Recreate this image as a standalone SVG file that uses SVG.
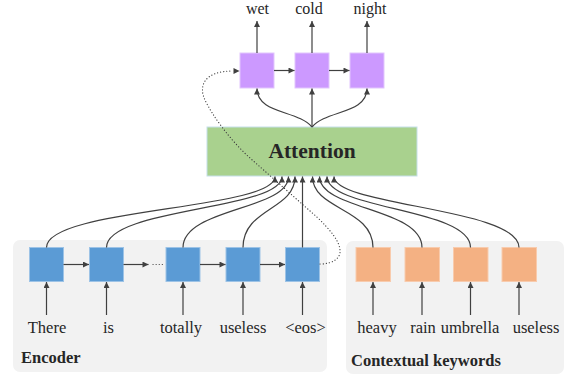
<svg xmlns="http://www.w3.org/2000/svg" width="573" height="377" viewBox="0 0 573 377">
<defs>
<marker id="ah" viewBox="0 0 10 10" refX="10" refY="5" markerWidth="7" markerHeight="6" markerUnits="userSpaceOnUse" orient="auto">
<path d="M0,0 L10,5 L0,10 z" fill="#404040"/>
</marker>
<style>
.panel{fill:#f2f2f2;}
.blue{fill:#5b9bd5;stroke:#9dc3e6;stroke-width:1;}
.orange{fill:#f4b183;stroke:#f8cbad;stroke-width:1;}
.purple{fill:#cc99ff;stroke:#e2c6fd;stroke-width:1;}
.green{fill:#a9d18e;stroke:#c5dfe9;stroke-width:1;}
.lbl{font-family:"Liberation Serif","Times New Roman",serif;font-size:16.5px;fill:#262626;text-anchor:middle;}
.top{font-family:"Liberation Serif","Times New Roman",serif;font-size:16px;fill:#262626;text-anchor:middle;}
.title{font-family:"Liberation Serif","Times New Roman",serif;font-size:16.5px;font-weight:bold;fill:#262626;}
.att{font-family:"Liberation Serif","Times New Roman",serif;font-size:21.5px;font-weight:bold;fill:#262626;text-anchor:middle;}
.c{fill:none;stroke:#404040;stroke-width:1.2;marker-end:url(#ah);}
.dot{fill:none;stroke:#404040;stroke-width:1.2;stroke-dasharray:0.1 3;stroke-linecap:round;}
</style>
</defs>

<g id="encoder-panel">
<rect class="panel" x="13" y="240" width="314" height="132" rx="7"/>
<text class="title" x="21" y="363">Encoder</text>
</g>
<g id="keywords-panel">
<rect class="panel" x="346" y="241" width="218" height="133" rx="7"/>
<text class="title" x="351" y="366">Contextual keywords</text>
</g>

<g id="attention">
<rect class="green" x="207" y="127" width="210" height="49"/>
<text class="att" x="312" y="158">Attention</text>
</g>

<g id="dec1"><rect class="purple" x="240" y="53" width="34" height="35"/><text class="top" x="257.5" y="14">wet</text></g>
<g id="dec2"><rect class="purple" x="295" y="53" width="34" height="35"/><text class="top" x="309" y="14">cold</text></g>
<g id="dec3"><rect class="purple" x="350" y="53" width="34" height="35"/><text class="top" x="370" y="14">night</text></g>

<g id="enc1"><rect class="blue" x="29.5" y="247.5" width="34" height="34"/><text class="lbl" x="47" y="333">There</text></g>
<g id="enc2"><rect class="blue" x="89.5" y="247.5" width="34" height="34"/><text class="lbl" x="108.5" y="333">is</text></g>
<g id="enc3"><rect class="blue" x="166" y="247.5" width="34" height="34"/><text class="lbl" x="181" y="333">totally</text></g>
<g id="enc4"><rect class="blue" x="226" y="247.5" width="34" height="34"/><text class="lbl" x="243" y="333">useless</text></g>
<g id="enc5"><rect class="blue" x="285.5" y="247.5" width="34" height="34"/><text class="lbl" x="305.5" y="333">&lt;eos&gt;</text></g>

<g id="kw1"><rect class="orange" x="356" y="247.5" width="34.5" height="34"/><text class="lbl" x="377" y="333">heavy</text></g>
<g id="kw2"><rect class="orange" x="405" y="247.5" width="34.5" height="34"/><text class="lbl" x="423" y="333">rain</text></g>
<g id="kw3"><rect class="orange" x="453.5" y="247.5" width="34.5" height="34"/><text class="lbl" x="470" y="333">umbrella</text></g>
<g id="kw4"><rect class="orange" x="502" y="247.5" width="34.5" height="34"/><text class="lbl" x="536" y="333">useless</text></g>

<g id="connectors">
<path class="c" d="M46.5,315 V282"/>
<path class="c" d="M106.5,315 V282"/>
<path class="c" d="M183,315 V282"/>
<path class="c" d="M243,315 V282"/>
<path class="c" d="M302.5,315 V282"/>
<path class="c" d="M373,315 V282"/>
<path class="c" d="M422,315 V282"/>
<path class="c" d="M470.5,315 V282"/>
<path class="c" d="M519,315 V282"/>
<path class="c" d="M63.5,264.5 H89"/>
<path class="c" d="M123.5,264.5 H148.5"/>
<path class="dot" d="M153,264.5 H163"/>
<path class="c" d="M200,264.5 H225.5"/>
<path class="c" d="M260,264.5 H285"/>
<path class="c" d="M46.5,247.5 C46.5,208 275,210 275,176.5"/>
<path class="c" d="M106.5,247.5 C106.5,208 282,210 282,176.5"/>
<path class="c" d="M183,247.5 C183,208 288.5,210 288.5,176.5"/>
<path class="c" d="M243,247.5 C243,208 295,210 295,176.5"/>
<path class="c" d="M302.5,247.5 V176.5"/>
<path class="c" d="M373,247.5 C373,208 312.5,210 312.5,176.5"/>
<path class="c" d="M422,247.5 C422,208 319.5,210 319.5,176.5"/>
<path class="c" d="M470.5,247.5 C470.5,208 327,210 327,176.5"/>
<path class="c" d="M519,247.5 C519,208 334,206 334,176.5"/>
<path class="c" d="M312,127 V88.5"/>
<path class="c" d="M312,127 C298,110 257,114 257,88.5"/>
<path class="c" d="M312,127 C326,110 367,114 367,88.5"/>
<path class="c" d="M274,70.5 H294.5"/>
<path class="c" d="M329,70.5 H349.5"/>
<path class="c" d="M257,53 V21"/>
<path class="c" d="M312,53 V21"/>
<path class="c" d="M367,53 V21"/>
<path class="dot" d="M320,264 C333,264 341,258 340,250 C339,240 330,230 318,218 L250,158 C230,140 212,115 205,100 C198,85 205,71 233,71"/>
<path class="c" d="M233,71 H239.5" style="stroke-width:0.1"/>
</g>
</svg>
